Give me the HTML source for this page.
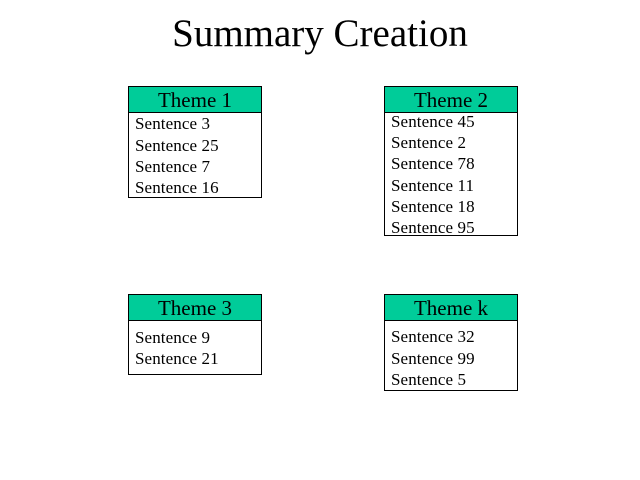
<!DOCTYPE html>
<html><head><style>
body{margin:0;width:640px;height:480px;background:#fff;position:relative;font-family:"Liberation Serif",serif;overflow:hidden}
.t{position:absolute;top:12px;left:0;width:640px;text-align:center;font-size:39px;line-height:44px}
.box{position:absolute;border:1px solid #000;box-sizing:border-box;width:134px}
.h{background:#00cc99;border-bottom:1px solid #000;height:26px;box-sizing:border-box;text-align:center;font-size:21px;line-height:26px}
.l{position:absolute;left:6px;font-size:17px;line-height:20px;white-space:nowrap;letter-spacing:0.1px}
</style></head><body>
<div class="t">Summary Creation</div>
<div class="box" style="left:128px;top:86px;height:112px"><div class="h">Theme 1</div>
<div class="l" style="top:27px">Sentence 3</div><div class="l" style="top:49px">Sentence 25</div><div class="l" style="top:70px">Sentence 7</div><div class="l" style="top:91px">Sentence 16</div></div>
<div class="box" style="left:384px;top:86px;height:150px"><div class="h">Theme 2</div>
<div class="l" style="top:25px">Sentence 45</div><div class="l" style="top:46px">Sentence 2</div><div class="l" style="top:67px">Sentence 78</div><div class="l" style="top:89px">Sentence 11</div><div class="l" style="top:110px">Sentence 18</div><div class="l" style="top:131px">Sentence 95</div></div>
<div class="box" style="left:128px;top:294px;height:81px"><div class="h">Theme 3</div>
<div class="l" style="top:33px">Sentence 9</div><div class="l" style="top:54px">Sentence 21</div></div>
<div class="box" style="left:384px;top:294px;height:97px"><div class="h">Theme k</div>
<div class="l" style="top:32px">Sentence 32</div><div class="l" style="top:54px">Sentence 99</div><div class="l" style="top:75px">Sentence 5</div></div>
</body></html>
